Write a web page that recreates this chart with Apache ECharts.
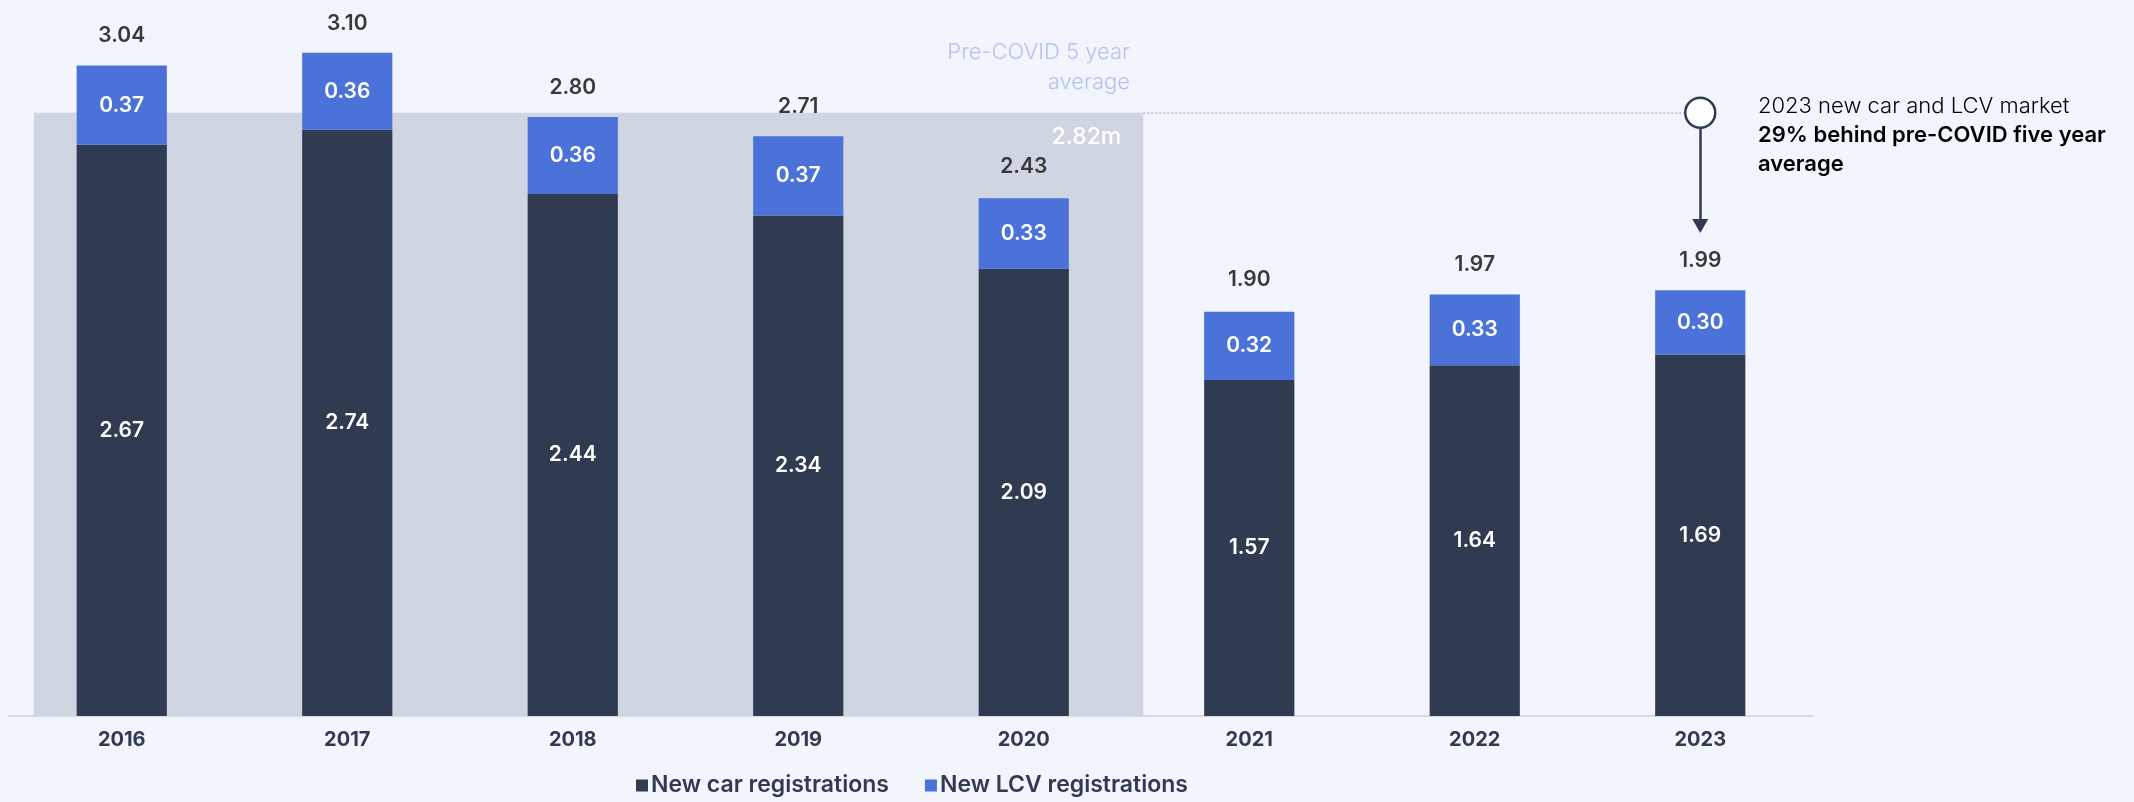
<!DOCTYPE html>
<html>
<head>
<meta charset="utf-8">
<script src="https://cdn.jsdelivr.net/npm/echarts@6/dist/echarts.min.js"></script>
<style>
  html, body { margin: 0; padding: 0; background: #f2f5fd; }
  #chart { width: 2134px; height: 802px; }
</style>
</head>
<body>
<div id="chart"></div>
<script>
// years on the x axis
const years = ['2016', '2017', '2018', '2019', '2020', '2021', '2022', '2023'];
// millions of registrations
const carRegs = [2.67, 2.74, 2.44, 2.34, 2.09, 1.57, 1.64, 1.69];
const lcvRegs = [0.37, 0.36, 0.36, 0.37, 0.33, 0.32, 0.33, 0.30];
const totals = [3.04, 3.10, 2.80, 2.71, 2.43, 1.90, 1.97, 1.99];
// pre-COVID five year average (2016-2020), millions
const preCovidAvg = 2.82;

const NAVY = '#303a51';
const BLUE = '#4a72d8';
const FONT = 'Inter, Lato, "Noto Sans", sans-serif';

const myChart = echarts.init(document.getElementById('chart'));

const option = {
  backgroundColor: '#f2f5fd',
  animation: false,
  grid: { left: 9, right: 321, top: 10, bottom: 86 },
  legend: {
    data: ['New car registrations', 'New LCV registrations'],
    bottom: 0,
    left: 631,
    itemWidth: 12,
    itemHeight: 12,
    itemGap: 36,
    icon: 'rect',
    textStyle: { fontFamily: FONT, fontSize: 23, color: NAVY, fontWeight: 600, padding: [0, 0, 0, -2] }
  },
  xAxis: [
    {
      type: 'category',
      data: years,
      axisTick: { show: false },
      axisLine: { lineStyle: { color: '#d6d9e0', width: 2 } },
      axisLabel: { fontFamily: FONT, fontSize: 20, fontWeight: 700, color: NAVY, margin: 14 }
    },
    {
      // hidden helper axis so the shaded band can sit between categories
      type: 'value',
      min: 0,
      max: 8,
      show: false
    }
  ],
  yAxis: {
    type: 'value',
    min: 0,
    max: 3.3,
    show: false,
    splitLine: { show: false }
  },
  series: [
    {
      name: 'New car registrations',
      type: 'bar',
      stack: 'total',
      barWidth: '40%',
      z: 3,
      itemStyle: { color: NAVY },
      label: {
        show: true,
        position: 'inside',
        color: '#fff',
        fontFamily: FONT,
        fontSize: 21,
        fontWeight: 600,
        formatter: p => p.value.toFixed(2)
      },
      data: carRegs
    },
    {
      name: 'New LCV registrations',
      type: 'bar',
      stack: 'total',
      barWidth: '40%',
      z: 3,
      itemStyle: { color: BLUE },
      label: {
        show: true,
        position: 'inside',
        color: '#fff',
        fontFamily: FONT,
        fontSize: 21,
        fontWeight: 600,
        formatter: p => p.value.toFixed(2)
      },
      data: lcvRegs
    },
    {
      // invisible bars only to carry the total labels
      name: 'Total',
      type: 'bar',
      barWidth: '40%',
      barGap: '-100%',
      z: 2,
      silent: true,
      itemStyle: { color: 'rgba(0,0,0,0)' },
      label: {
        show: true,
        position: 'top',
        distance: 19,
        color: '#393939',
        fontFamily: FONT,
        fontSize: 21,
        fontWeight: 600,
        formatter: p => p.value.toFixed(2)
      },
      data: totals
    },
    {
      name: 'avg',
      type: 'line',
      xAxisIndex: 1,
      yAxisIndex: 0,
      z: 1,
      data: [],
      markArea: {
        silent: true,
        itemStyle: { color: '#cfd6e2' },
        label: {
          show: true,
          position: 'insideTopRight',
          offset: [-17, 8],
          color: '#fff',
          fontFamily: FONT,
          fontSize: 23,
          fontWeight: 500,
          formatter: preCovidAvg.toFixed(2) + 'm'
        },
        data: [[{ xAxis: 0.11, yAxis: 0 }, { xAxis: 5.03, yAxis: preCovidAvg }]]
      },
      markLine: {
        silent: true,
        animation: false,
        label: { show: false },
        data: [
          [
            { coord: [5.03, preCovidAvg], symbol: 'none', lineStyle: { type: 'dotted', color: '#c3c9d5', width: 2 } },
            { coord: [7.5, preCovidAvg], symbol: 'none' }
          ],
          [
            { coord: [7.5, preCovidAvg], symbol: 'none', lineStyle: { type: 'solid', color: NAVY, width: 2.5 } },
            { coord: [7.5, 2.29], symbol: 'triangle', symbolSize: [16, 14], symbolRotate: 180 }
          ]
        ]
      },
      markPoint: {
        silent: true,
        symbol: 'circle',
        symbolSize: 30,
        label: { show: false },
        itemStyle: { color: '#fff', borderColor: NAVY, borderWidth: 2.5 },
        data: [{ coord: [7.5, preCovidAvg] }]
      }
    }
  ],
  graphic: [
    {
      type: 'text',
      x: 1130,
      y: 37,
      style: {
        text: 'Pre-COVID 5 year\naverage',
        align: 'right',
        verticalAlign: 'top',
        fill: '#b3c3ee',
        font: '300 22px ' + FONT,
        lineHeight: 30
      }
    },
    {
      type: 'text',
      x: 1758,
      y: 92,
      style: {
        text: '{a|2023 new car and LCV market}\n{b|29% behind pre-COVID five year}\n{b|average}',
        verticalAlign: 'top',
        rich: {
          a: { fontFamily: FONT, fontSize: 22, fontWeight: 300, color: NAVY, lineHeight: 29 },
          b: { fontFamily: FONT, fontSize: 22, fontWeight: 600, color: NAVY, lineHeight: 29 }
        }
      }
    }
  ]
};

myChart.setOption(option);
</script>
</body>
</html>
